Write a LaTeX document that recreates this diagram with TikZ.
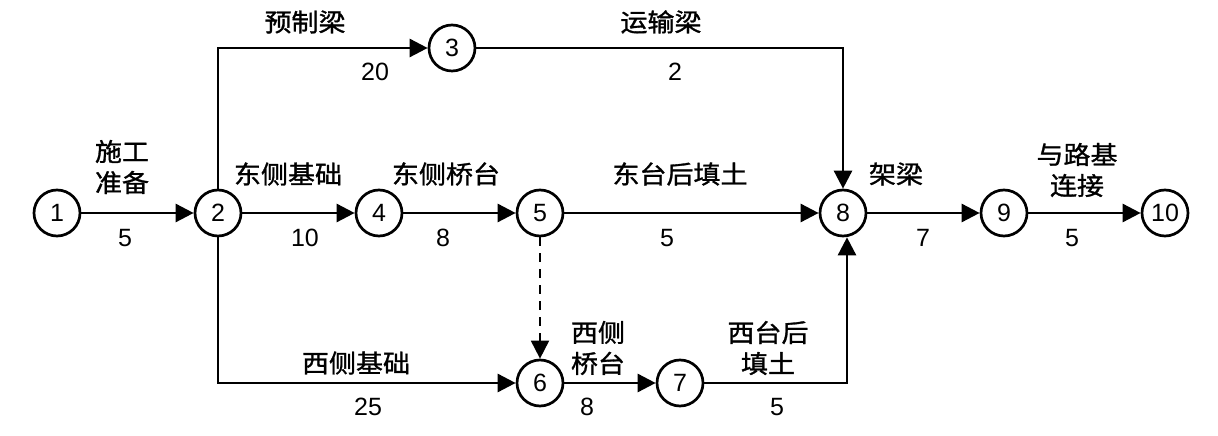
\documentclass[tikz,border=0pt]{standalone}
\usepackage{fontspec}
\setmainfont{Liberation Sans}
\newfontfamily\cjk{Noto Sans CJK SC}[FakeStretch=1.08, FakeBold=1.2]
\usetikzlibrary{positioning,arrows.meta}
\tikzstyle{event} = [circle, draw=black, line width=2.7pt, minimum size=46pt, inner sep=0pt, font=\fontsize{25}{25}\selectfont]
\tikzstyle{task} = [font=\cjk\fontsize{25}{31}\selectfont, align=center, inner sep=0pt]
\tikzstyle{dur} = [font=\fontsize{25}{25}\selectfont, inner sep=0pt]
\tikzstyle{arrow} = [line width=2.7pt, -{Triangle[length=18pt,width=18pt]}]
\tikzstyle{dummy} = [arrow, line width=1.9pt, dash pattern=on 9pt off 7pt]

\begin{document}
\begin{tikzpicture}[x=1pt, y=1pt, node distance=161pt]
		\useasboundingbox (0,0) rectangle (1218,436);
		% events
		\node[event] (n1) at (57,223) {1};
		\node[event, right of=n1] (n2) {2};
		\node[event] (n3) at (452,388) {3};
		\node[event, right of=n2] (n4) {4};
		\node[event, right of=n4] (n5) {5};
		\node[event, below of=n5, yshift=-9pt] (n6) {6};
		\node[event, right of=n6, xshift=-21pt] (n7) {7};
		\node[event, right of=n5, xshift=142pt] (n8) {8};
		\node[event, right of=n8] (n9) {9};
		\node[event, right of=n9] (n10) {10};
		% activities
		\node[task] (t12) at (122,269) {施工\\准备};
		\node[dur] (d12) at (125,198) {5};
		\node[task] (t23) at (305,414) {预制梁};
		\node[dur] (d23) at (375,364) {20};
		\node[task] (t38) at (661,414) {运输梁};
		\node[dur] (d38) at (675,364) {2};
		\node[task] (t24) at (288,262) {东侧基础};
		\node[dur] (d24) at (305,198) {10};
		\node[task] (t45) at (446,262) {东侧桥台};
		\node[dur] (d45) at (443,198) {8};
		\node[task] (t58) at (680,262) {东台后填土};
		\node[dur] (d58) at (667,198) {5};
		\node[task] (t89) at (896,262) {架梁};
		\node[dur] (d89) at (923,198) {7};
		\node[task] (t910) at (1077,266) {与路基\\连接};
		\node[dur] (d910) at (1072,198) {5};
		\node[task] (t26) at (356,73) {西侧基础};
		\node[dur] (d26) at (368,29) {25};
		\node[task] (t67) at (598,88) {西侧\\桥台};
		\node[dur] (d67) at (587,29) {8};
		\node[task] (t78) at (768,88) {西台后\\填土};
		\node[dur] (d78) at (777,29) {5};
		% arrows
		\draw[arrow] (n1) -- (n2);
		\draw[arrow] (n2) |- (n3);
		\draw[arrow] (n3) -| (n8);
		\draw[arrow] (n2) -- (n4);
		\draw[arrow] (n4) -- (n5);
		\draw[arrow] (n5) -- (n8);
		\draw[dummy] (n5) -- (n6);
		\draw[arrow] (n2) |- (n6);
		\draw[arrow] (n6) -- (n7);
		\draw[arrow] (n7) -| ([xshift=4pt]n8.south);
		\draw[arrow] (n8) -- (n9);
		\draw[arrow] (n9) -- (n10);
\end{tikzpicture}
\end{document}
